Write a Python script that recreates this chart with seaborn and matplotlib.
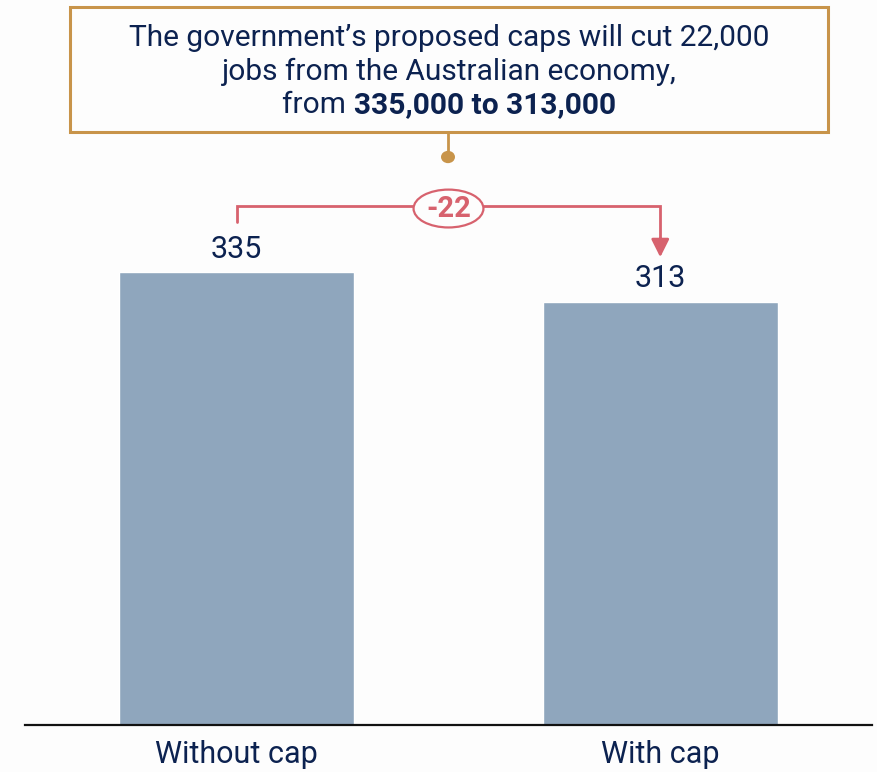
import matplotlib
matplotlib.use("Agg")
import matplotlib.pyplot as plt
from matplotlib.patches import Ellipse, Rectangle, Circle
from matplotlib.lines import Line2D
import seaborn as sns
import pandas as pd

# Jobs (thousands) with and without the proposed caps
categories = ["Without cap", "With cap"]
jobs = [335, 313]
change = jobs[1] - jobs[0]

NAVY = "#0c2250"
BAR = "#8fa6bd"
PINK = "#d7626e"
GOLD = "#c8944a"
BG = "#fdfdfd"

sns.set_theme(style="white")
plt.rcParams["font.family"] = ["Roboto", "DejaVu Sans"]

W, H = 878, 772
fig = plt.figure(figsize=(W / 100, H / 100), dpi=100, facecolor=BG)

# axes: x from 25px to 872px, baseline at 725px, ylim 0..400 -> 1.352 px per unit
ymax = 400
px_per_unit = 1.352
ax_h = ymax * px_per_unit
ax = fig.add_axes([25 / W, (H - 725) / H, 847 / W, ax_h / H])
ax.set_facecolor(BG)

df = pd.DataFrame({"category": categories, "jobs": jobs})
sns.barplot(data=df, x="category", y="jobs", color=BAR, saturation=1,
            width=0.556, ax=ax)
ax.set_xlim(-0.5, 1.5)
ax.set_ylim(0, ymax)
ax.set_xlabel("")
ax.set_ylabel("")
ax.set_yticks([])
for s in ["left", "right", "top"]:
    ax.spines[s].set_visible(False)
ax.spines["bottom"].set_color("#111111")
ax.spines["bottom"].set_linewidth(1.6)
ax.tick_params(axis="x", length=0, pad=11, labelsize=22, labelcolor=NAVY)

# value labels
for i, v in enumerate(jobs):
    ax.annotate(f"{v}", (i, v), xytext=(0, 6), textcoords="offset points",
                ha="center", va="bottom", fontsize=22, color=NAVY)

# bracket showing the change
y_br = 384
ax.add_line(Line2D([0, 0, 1, 1], [jobs[0] + 37, y_br, y_br, jobs[1] + 46],
                   color=PINK, lw=2, clip_on=False, solid_joinstyle="miter"))
ax.annotate("", xy=(1, jobs[1] + 33), xytext=(1, jobs[1] + 47),
            arrowprops=dict(arrowstyle="-|>,head_length=0.9,head_width=0.45",
                            color=PINK, lw=2, shrinkA=0, shrinkB=0),
            annotation_clip=False)
ell = Ellipse((0.5, y_br - 2), width=0.165, height=28, facecolor=BG,
              edgecolor=PINK, lw=1.6, clip_on=False, zorder=5)
ax.add_patch(ell)
ax.text(0.5, y_br - 2, f"{change}", ha="center", va="center", fontsize=21,
        fontweight="bold", color=PINK, zorder=6, clip_on=False)

# headline box
def fx(px):
    return px / W

def fy(py):
    return 1 - py / H

fig.patches.append(Rectangle((fx(70), fy(132)), fx(828) - fx(70), fy(7) - fy(132),
                             transform=fig.transFigure, facecolor=BG,
                             edgecolor=GOLD, lw=2.2))
fig.add_artist(Line2D([fx(448), fx(448)], [fy(132), fy(157)],
                      transform=fig.transFigure, color=GOLD, lw=2))
fig.patches.append(Circle((fx(448), fy(157)), 7 / W, transform=fig.transFigure,
                          facecolor=GOLD, edgecolor="none"))

cx = fx(449)
fs = 21.5
fig.text(cx, fy(38), "The government\u2019s proposed caps will cut 22,000",
         ha="center", va="center", fontsize=fs, color=NAVY)
fig.text(cx, fy(72), "jobs from the Australian economy,",
         ha="center", va="center", fontsize=fs, color=NAVY)

# third line: regular lead-in followed by bold figures, centred as a unit
t1 = fig.text(0, fy(105), "from ", ha="left", va="center", fontsize=fs, color=NAVY)
t2 = fig.text(0, fy(105), "335,000 to 313,000", ha="left", va="center",
              fontsize=fs, fontweight="bold", color=NAVY)
r = fig.canvas.get_renderer()
w1 = t1.get_window_extent(r).width / W
w2 = t2.get_window_extent(r).width / W
start = cx - (w1 + w2) / 2
t1.set_x(start)
t2.set_x(start + w1)

fig.savefig("out.png", dpi=100, facecolor=BG)
